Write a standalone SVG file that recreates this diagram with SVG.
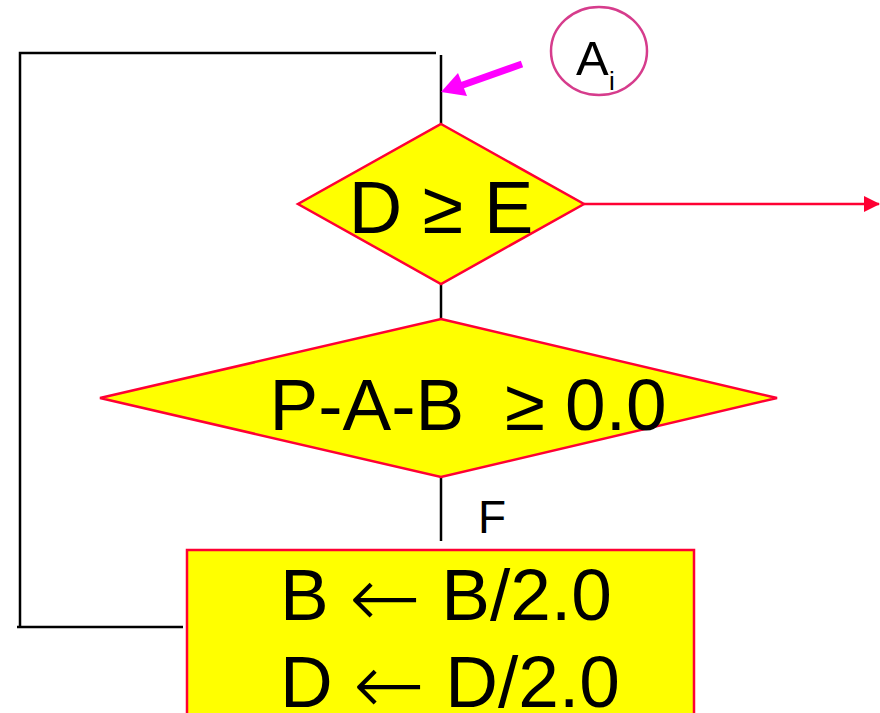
<svg xmlns="http://www.w3.org/2000/svg" width="880" height="713" viewBox="0 0 880 713">
<defs>
<style>
.t{font-family:"Liberation Sans",Arial,sans-serif;fill:#000}
.ar{font-family:"DejaVu Sans",sans-serif;font-size:86px;font-weight:200}
.blk{stroke:#000;stroke-width:2.5;fill:none}
.shape{fill:#ffff00;stroke:#ff0033;stroke-width:2.5}
</style>
<marker id="redhead" markerWidth="16" markerHeight="16" refX="15" refY="8" orient="auto" markerUnits="userSpaceOnUse">
<path d="M0,0 L16,8 L0,16 Z" fill="#ff0033"/>
</marker>
</defs>
<rect width="880" height="713" fill="#fff"/>
<g id="connectors">
<polyline class="blk" points="436,53 20,53 20,627"/>
<line class="blk" x1="17" y1="627" x2="183" y2="627"/>
<line class="blk" x1="441" y1="55" x2="441" y2="124"/>
<line class="blk" x1="441" y1="284" x2="441" y2="319"/>
<line class="blk" x1="441" y1="477" x2="441" y2="541"/>
<line x1="584" y1="204" x2="879" y2="204" stroke="#ff0033" stroke-width="2.5" marker-end="url(#redhead)"/>
<line x1="522" y1="64" x2="460" y2="86" stroke="#ff00ff" stroke-width="7"/>
<polygon points="441,92 458,73 467,96" fill="#ff00ff"/>
<text class="t" x="478" y="533" font-size="46">F</text>
</g>
<g id="label-Ai">
<ellipse cx="599" cy="51" rx="48" ry="44" fill="#fff" stroke="#d63c8c" stroke-width="2.5"/>
<text class="t" x="576" y="75" font-size="49">A</text>
<text class="t" x="609" y="90" font-size="26">i</text>
</g>
<g id="decision1">
<polygon class="shape" points="441,124 584,204 441,284 298,204"/>
<text class="t" x="441" y="233" font-size="74" text-anchor="middle">D ≥ E</text>
</g>
<g id="decision2">
<polygon class="shape" points="441,319 777,398 441,477 100,398"/>
<text class="t" x="468" y="430" font-size="73" text-anchor="middle" xml:space="preserve">P-A-B  ≥ 0.0</text>
</g>
<g id="process">
<rect class="shape" x="187" y="550" width="507" height="180"/>
<text class="t" x="280" y="620" font-size="73">B <tspan class="ar" dy="7">←</tspan><tspan dy="-7"> B/2.0</tspan></text>
<text class="t" x="280" y="707" font-size="73">D <tspan class="ar" dy="7">←</tspan><tspan dy="-7"> D/2.0</tspan></text>
</g>
</svg>
